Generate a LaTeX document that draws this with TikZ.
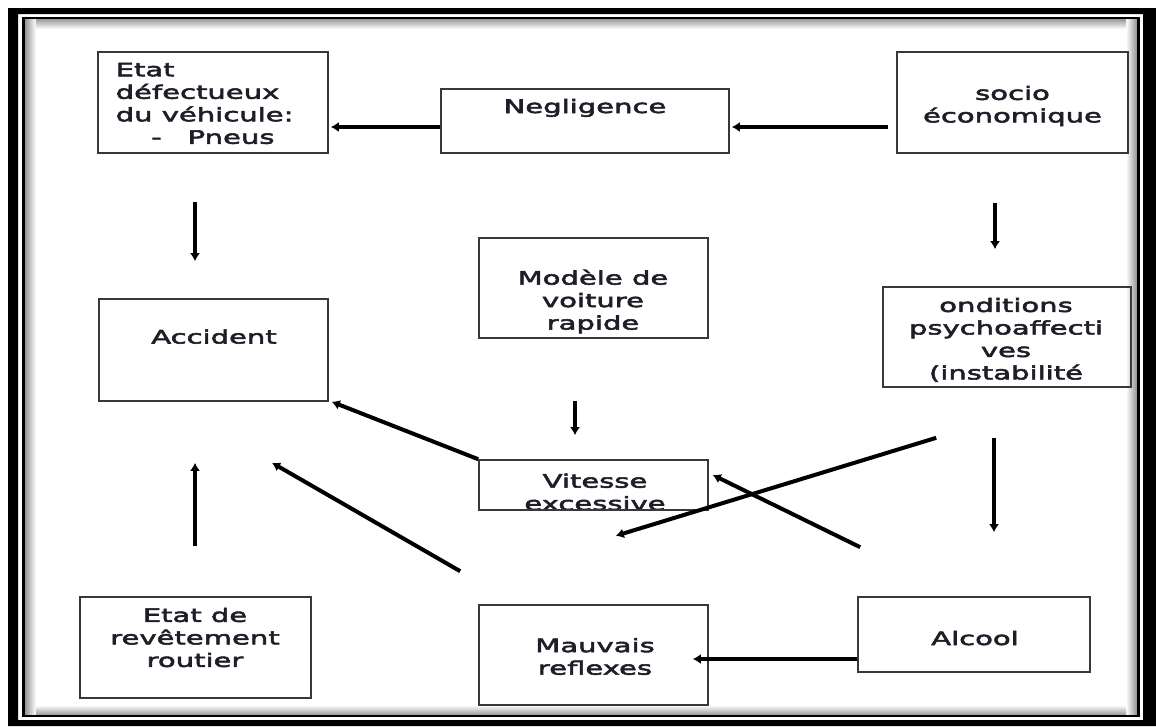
\documentclass[tikz,border=0pt]{standalone}
\usepackage{fontspec}
\setmainfont{DejaVu Sans}[FakeStretch=1.57,FakeBold=3]
\usetikzlibrary{arrows.meta,calc}
\definecolor{txtc}{RGB}{30,30,40}
\begin{document}
\begin{tikzpicture}[x=1pt,y=-1pt,
  box/.style={draw=black!78, line width=1.6pt, rectangle, inner sep=0pt},
  txt/.style={font=\fontsize{18.5}{22.5}\selectfont, text=txtc, inner sep=0pt, align=center},
  arr/.style={line width=4pt, -{Latex[length=8pt,width=10pt]}},
]
\useasboundingbox (0,0) rectangle (1156,726);
\fill[white] (0,0) rectangle (1156,726);
% page frame
\fill[black, even odd rule] (8,8) rectangle (1156,726) (18,14) rectangle (1143,720);
\shade[left color=black!45, right color=white] (24,19) rectangle (36,715);
\shade[left color=white, right color=black!45] (1126,19) rectangle (1137.5,715);
\shade[top color=black!40, bottom color=white] (36,19) rectangle (1126,29);
\shade[top color=white, bottom color=black!40] (36,705) rectangle (1126,715);
\draw[line width=2.5pt] (23.5,18) rectangle (1138.5,716);

% texts
\node[txt, align=left, anchor=west] (etatdefT) at (115.5,103.4) {Etat\\défectueux\\du véhicule:\\\hspace*{35.5pt}-\hspace{26pt}Pneus};
\node[txt, anchor=base] (negT) at (585,113) {Negligence};
\node[txt] (socioT) at (1012.5,106) {socio\\économique};
\node[txt, anchor=base] (accidentT) at (214,343.5) {Accident};
\node[txt] (modeleT) at (593,301.6) {Modèle de\\voiture\\rapide};
\node[txt] (onditT) at (1006,339.9) {onditions\\psychoaffecti\\ves\\(instabilité};
\node[txt] (vitesseT) at (595,492) {Vitesse\\excessive};
\node[txt] (etatrevT) at (195,637.5) {Etat de\\revêtement\\routier};
\node[txt] (mauvaisT) at (595,656.5) {Mauvais\\reflexes};
\node[txt, anchor=base] (alcoolT) at (975,645) {Alcool};

% boxes
\node[box, minimum width=230, minimum height=101] (etatdef) at (213,102.5) {};
\node[box, minimum width=288, minimum height=64] (neg) at (585,121) {};
\node[box, minimum width=231, minimum height=101] (socio) at (1012.5,102.5) {};
\node[box, minimum width=229, minimum height=102] (accident) at (213.5,350) {};
\node[box, minimum width=229, minimum height=100] (modele) at (593.5,288) {};
\node[box, minimum width=248, minimum height=100] (ondit) at (1007,337) {};
\node[box, minimum width=229, minimum height=50] (vitesse) at (593.5,485) {};
\node[box, minimum width=231, minimum height=101] (etatrev) at (195.5,647.5) {};
\node[box, minimum width=229, minimum height=100] (mauvais) at (593.5,655) {};
\node[box, minimum width=232, minimum height=75] (alcool) at (974,634.5) {};

% connectors
\draw[arr] ($(neg.west)+(0,6)$) -- ($(etatdef.east)+(2,24.5)$);
\draw[arr] ($(socio.west)+(-8,24.5)$) -- ($(neg.east)+(2,6)$);
\draw[arr] ($(etatdef.south)+(-18,48)$) -- ($(accident.north)+(-18.5,-37)$);
\draw[arr] ($(socio.south)+(-17.5,49)$) -- ($(ondit.north)+(-12,-37)$);
\draw[arr] ($(modele.south)+(-18.5,62)$) -- ($(vitesse.north)+(-18.5,-24)$);
\draw[arr] (vitesse.north west) -- ($(accident.south east)+(3,0)$);
\draw[arr] ($(etatrev.north)+(-0.5,-50)$) -- ($(accident.south)+(-18.5,61)$);
\draw[arr] ($(mauvais.north west)+(-18,-33)$) -- ($(accident.south)+(58.5,61)$);
\draw[arr] ($(ondit.south west)+(54,50)$) -- ($(vitesse.south east)+(-93,25)$);
\draw[arr] ($(ondit.south)+(-13,50)$) -- ($(alcool.north)+(20,-64)$);
\draw[arr] ($(alcool.north west)+(3,-49)$) -- ($(vitesse.east)+(4,-10)$);
\draw[arr] ($(alcool.west)+(0,24.5)$) -- ($(mauvais.east)+(-16,4)$);
\end{tikzpicture}
\end{document}
